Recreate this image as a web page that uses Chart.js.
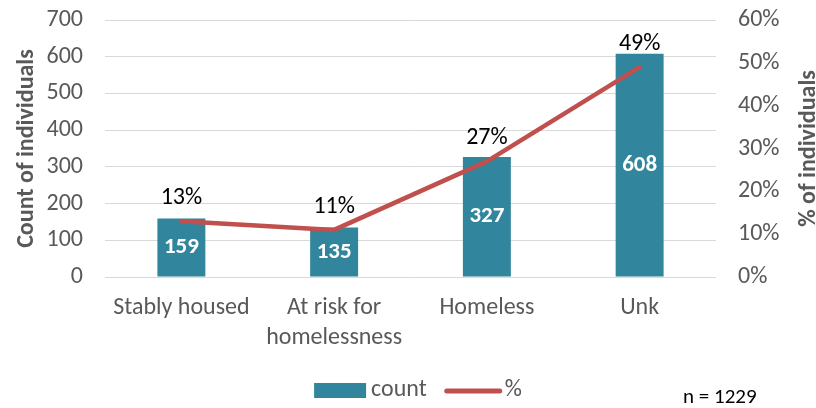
<!DOCTYPE html>
<html>
<head>
<meta charset="utf-8">
<script src="https://cdn.jsdelivr.net/npm/chart.js@4.4.1/dist/chart.umd.min.js"></script>
<style>
  html, body { margin: 0; padding: 0; background: #fff; }
</style>
</head>
<body>
<canvas id="housing-chart" width="816" height="408"></canvas>
<script>
const categories = [["Stably housed"], ["At risk for", "homelessness"], ["Homeless"], ["Unk"]];
const counts = [159, 135, 327, 608];
const percents = [13, 11, 27, 49];

const FONT = "Carlito, Lato, 'Open Sans', sans-serif";
const AXIS_GRAY = "#595959";
const BAR_COLOR = "#31859C";
const LINE_COLOR = "#C0504D";

// value labels: counts centred in the bars, percentages above the line
const dataLabels = {
  id: "dataLabels",
  afterDatasetsDraw(chart) {
    const ctx = chart.ctx;
    ctx.save();
    ctx.textAlign = "center";
    ctx.textBaseline = "middle";

    ctx.font = "bold 23px " + FONT;
    ctx.fillStyle = "#ffffff";
    chart.getDatasetMeta(1).data.forEach((bar, i) => {
      ctx.fillText(String(counts[i]), bar.x, (bar.y + bar.base) / 2);
    });

    ctx.font = "24px " + FONT;
    ctx.fillStyle = "#000000";
    chart.getDatasetMeta(0).data.forEach((pt, i) => {
      ctx.fillText(percents[i] + "%", pt.x, pt.y - 23);
    });
    ctx.restore();
  }
};

// axis titles (both read bottom to top), legend and sample size note
const extras = {
  id: "extras",
  afterDraw(chart) {
    const ctx = chart.ctx;
    const area = chart.chartArea;
    const midY = (area.top + area.bottom) / 2;
    ctx.save();

    ctx.font = "bold 24px " + FONT;
    ctx.fillStyle = AXIS_GRAY;
    ctx.textAlign = "center";
    ctx.textBaseline = "alphabetic";
    [[chart.scales.y.left + 33, "Count of individuals"],
     [chart.scales.y1.right - 1, "% of individuals"]].forEach(([x, text]) => {
      ctx.save();
      ctx.translate(x, midY);
      ctx.rotate(-Math.PI / 2);
      ctx.fillText(text, 0, 0);
      ctx.restore();
    });

    // legend
    ctx.font = "24px " + FONT;
    ctx.textAlign = "left";
    ctx.textBaseline = "middle";
    const legendY = 390;
    const wCount = ctx.measureText("count").width;
    const wPct = ctx.measureText("%").width;
    const total = 52 + 5 + wCount + 18 + 57 + 3 + wPct;
    let x = 418 - total / 2;
    ctx.fillStyle = BAR_COLOR;
    ctx.fillRect(x, legendY - 7, 52, 15);
    x += 57;
    ctx.fillStyle = AXIS_GRAY;
    ctx.fillText("count", x, legendY);
    x += wCount + 18;
    ctx.strokeStyle = LINE_COLOR;
    ctx.lineWidth = 5;
    ctx.lineCap = "round";
    ctx.beginPath();
    ctx.moveTo(x + 2, legendY + 1);
    ctx.lineTo(x + 55, legendY + 1);
    ctx.stroke();
    x += 60;
    ctx.fillText("%", x, legendY);

    // sample size
    const n = counts.reduce((a, b) => a + b, 0);
    ctx.font = "21px " + FONT;
    ctx.fillStyle = "#000000";
    ctx.fillText("n = " + n, 683, 398);
    ctx.restore();
  }
};

// fixed axis widths, and no extra room reserved for the end tick labels
function fixWidth(width) {
  return (scale) => {
    scale.width = width;
    scale.paddingTop = 0;
    scale.paddingBottom = 0;
  };
}

new Chart(document.getElementById("housing-chart").getContext("2d"), {
  data: {
    labels: categories,
    datasets: [
      {
        type: "line",
        label: "%",
        data: percents,
        yAxisID: "y1",
        borderColor: LINE_COLOR,
        backgroundColor: LINE_COLOR,
        borderWidth: 4.5,
        borderCapStyle: "round",
        borderJoinStyle: "round",
        pointRadius: 0,
        tension: 0,
        order: 0
      },
      {
        type: "bar",
        label: "count",
        data: counts,
        yAxisID: "y",
        backgroundColor: BAR_COLOR,
        barPercentage: 0.314,
        categoryPercentage: 1,
        order: 1
      }
    ]
  },
  options: {
    responsive: false,
    animation: false,
    layout: { padding: { top: 20, left: 0, right: 0, bottom: 0 } },
    plugins: {
      legend: { display: false },
      tooltip: { enabled: false }
    },
    scales: {
      x: {
        grid: { display: false, drawTicks: false },
        border: { display: false },
        ticks: {
          color: AXIS_GRAY,
          font: { family: FONT, size: 24, lineHeight: 1.25 },
          padding: 16,
          maxRotation: 0,
          autoSkip: false
        },
        afterFit(scale) {
          scale.height = 131;
          scale.paddingLeft = 0;
          scale.paddingRight = 0;
        }
      },
      y: {
        position: "left",
        min: 0,
        max: 700,
        ticks: {
          stepSize: 100,
          color: AXIS_GRAY,
          font: { family: FONT, size: 24 },
          padding: 22
        },
        grid: { color: "#D9D9D9", lineWidth: 1, drawTicks: false },
        border: { display: false },
        afterFit: fixWidth(105)
      },
      y1: {
        position: "right",
        min: 0,
        max: 60,
        ticks: {
          stepSize: 10,
          color: AXIS_GRAY,
          font: { family: FONT, size: 24 },
          padding: 22,
          callback: (v) => v + "%"
        },
        grid: { display: false, drawTicks: false },
        border: { display: false },
        afterFit: fixWidth(100)
      }
    }
  },
  plugins: [dataLabels, extras]
});
</script>
</body>
</html>
